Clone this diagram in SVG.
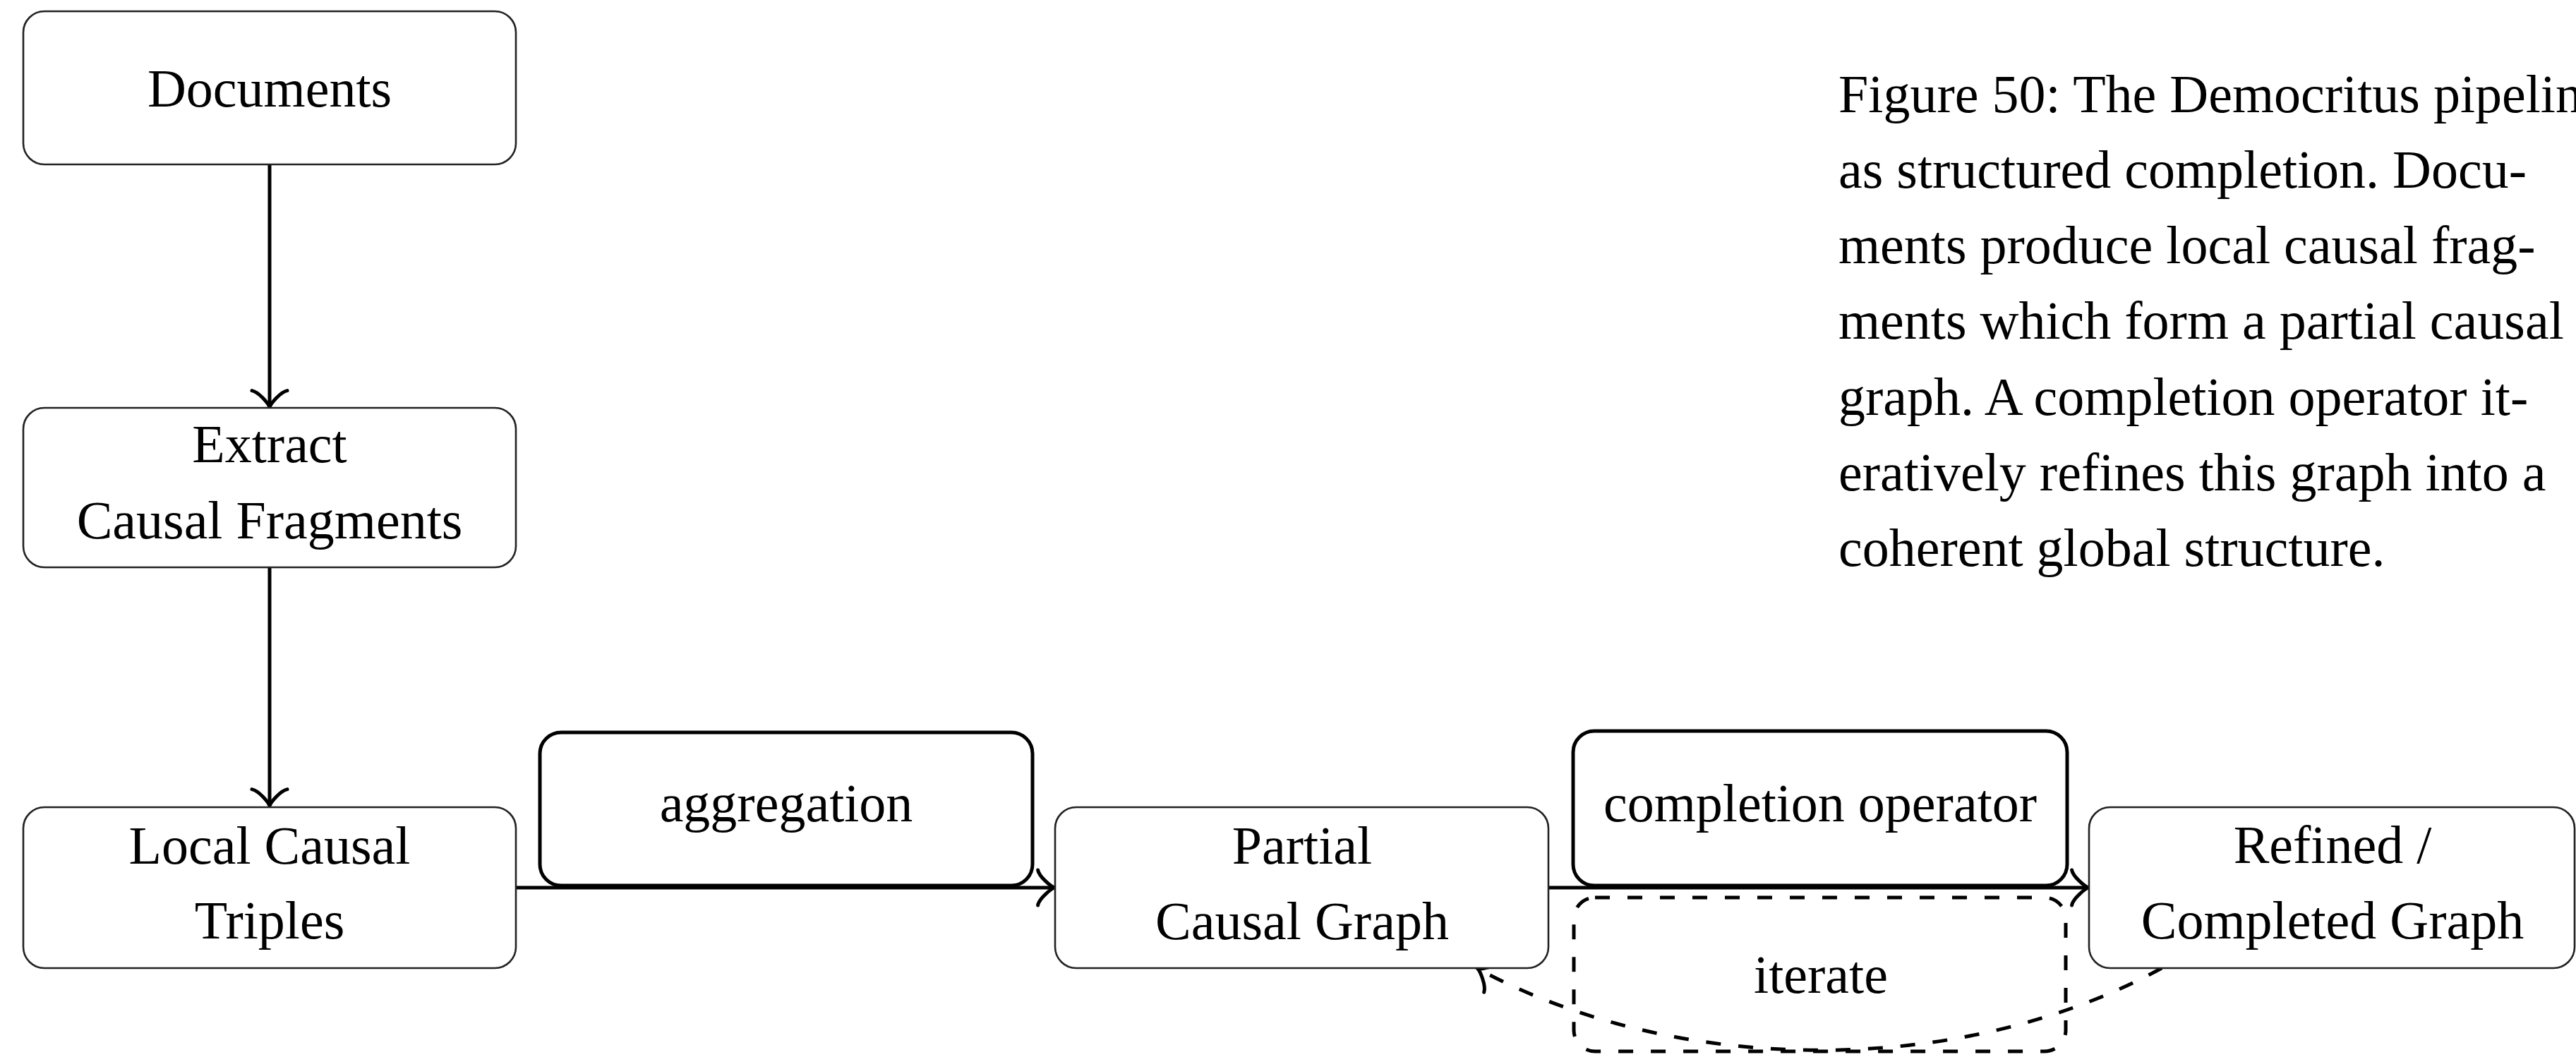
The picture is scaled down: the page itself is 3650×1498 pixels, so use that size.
<svg xmlns="http://www.w3.org/2000/svg" width="3650" height="1498" viewBox="0 0 3650 1498">
<defs>
<style>
text { font-family: "Liberation Serif", "Times New Roman", serif; font-size: 76px; fill: #000; }
.c { text-anchor: middle; }
.node { fill: #fff; stroke: #222; stroke-width: 2.6; }
.lab { fill: #fff; stroke: #000; stroke-width: 5; }
.dlab { fill: none; stroke: #000; stroke-width: 5; stroke-dasharray: 21 25; }
.edge { fill: none; stroke: #000; stroke-width: 5; }
.dash { stroke-dasharray: 21 25; }
.ah { fill: none; stroke: #000; stroke-width: 5; stroke-linecap: round; stroke-dasharray: none; }
</style>
<marker id="arr" markerUnits="userSpaceOnUse" viewBox="-30 -30 35 60" refX="0" refY="0" markerWidth="35" markerHeight="60" orient="auto" overflow="visible">
<path class="ah" d="M -23.4 -25 C -21.9 -15.6 -4.7 -1.6 0 0 C -4.7 1.6 -21.9 15.6 -23.4 25"/>
</marker>
</defs>
<rect x="0" y="0" width="3650" height="1498" fill="#fff"/>

<g id="connectors">
<path class="edge" d="M 382 233 L 382 577" marker-end="url(#arr)"/>
<path class="edge" d="M 382 804 L 382 1142" marker-end="url(#arr)"/>
<path class="edge" d="M 731 1258 L 1494 1258" marker-end="url(#arr)"/>
<path class="edge" d="M 2194 1258 L 2959 1258" marker-end="url(#arr)"/>
<path class="edge dash" d="M 3063 1372 C 2780 1527 2380 1527 2094 1373" marker-end="url(#arr)"/>
</g>

<g id="documents">
<rect class="node" x="33" y="16" width="698" height="217" rx="30"/>
<text class="c" x="382" y="151">Documents</text>
</g>

<g id="extract">
<rect class="node" x="33" y="578" width="698" height="226" rx="30"/>
<text class="c" x="382" y="655">Extract</text>
<text class="c" x="382" y="763">Causal Fragments</text>
</g>

<g id="triples">
<rect class="node" x="33" y="1144" width="698" height="228" rx="30"/>
<text class="c" x="382" y="1224">Local Causal</text>
<text class="c" x="382" y="1330">Triples</text>
</g>

<g id="partial">
<rect class="node" x="1495" y="1144" width="699" height="228" rx="30"/>
<text class="c" x="1845" y="1224">Partial</text>
<text class="c" x="1845" y="1331">Causal Graph</text>
</g>

<g id="refined">
<rect class="node" x="2960" y="1144" width="688" height="228" rx="30"/>
<text class="c" x="3305" y="1223">Refined /</text>
<text class="c" x="3305" y="1330">Completed Graph</text>
</g>

<g id="aggregation">
<rect class="lab" x="765" y="1038" width="698" height="217" rx="30"/>
<text class="c" x="1114" y="1164">aggregation</text>
</g>

<g id="completion-operator">
<rect class="lab" x="2229" y="1036" width="700" height="219" rx="30"/>
<text class="c" x="2579" y="1164">completion operator</text>
</g>

<g id="iterate">
<rect class="dlab" x="2230" y="1272" width="697" height="218" rx="30"/>
<text class="c" x="2580" y="1407">iterate</text>
</g>

<g id="caption">
<text x="2605" y="159">Figure 50: The Democritus pipeline</text>
<text x="2605" y="266">as structured completion. Docu-</text>
<text x="2605" y="373">ments produce local causal frag-</text>
<text x="2605" y="480">ments which form a partial causal</text>
<text x="2605" y="588">graph. A completion operator it-</text>
<text x="2605" y="695">eratively refines this graph into a</text>
<text x="2605" y="802">coherent global structure.</text>
</g>
</svg>
